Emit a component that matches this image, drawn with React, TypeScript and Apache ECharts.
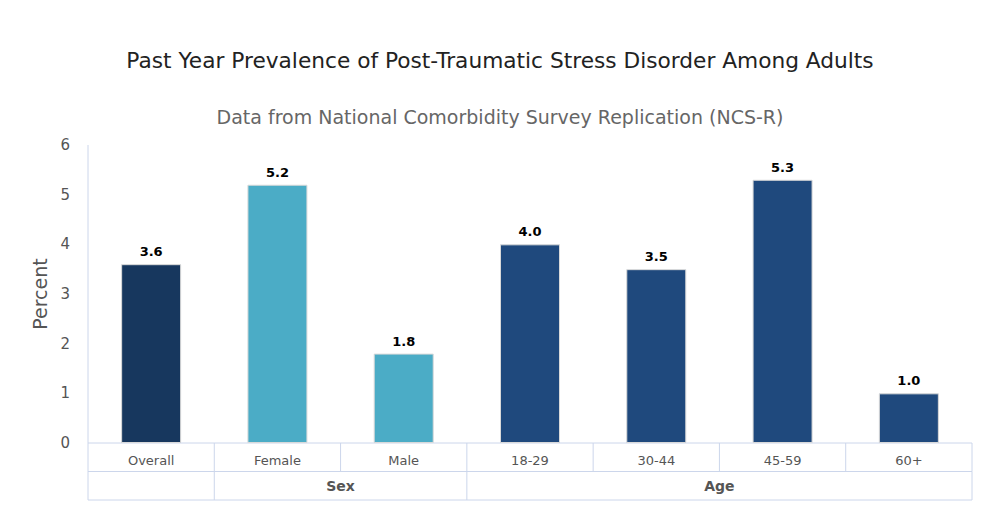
import React, { useEffect, useRef } from "react";
import * as echarts from "echarts";

const categories = ["Overall", "Female", "Male", "18-29", "30-44", "45-59", "60+"];
const values = [3.6, 5.2, 1.8, 4.0, 3.5, 5.3, 1.0];
const barColors = ["#17375e", "#4bacc6", "#4bacc6", "#1f497d", "#1f497d", "#1f497d", "#1f497d"];
const groupNames = ["", "Sex", "Age"];
const groupSpans = [1, 2, 4];
const yTicks = [0, 1, 2, 3, 4, 5, 6];

const FONT = "DejaVu Sans";
const LINE = "#ccd6eb";

export default function App() {
  const ref = useRef<HTMLDivElement>(null);
  useEffect(() => {
    if (!ref.current) return;
    const chart = echarts.init(ref.current, null, { renderer: "svg" });
    chart.setOption({
      animation: false,
      textStyle: { fontFamily: FONT },
      title: [
        {
          text: "Past Year Prevalence of Post-Traumatic Stress Disorder Among Adults",
          left: "center",
          top: 44,
          textStyle: { fontFamily: FONT, fontSize: 21.7, fontWeight: "normal", color: "#222" },
        },
        {
          text: "Data from National Comorbidity Survey Replication (NCS-R)",
          left: "center",
          top: 102,
          textStyle: { fontFamily: FONT, fontSize: 19, fontWeight: "normal", color: "#666" },
        },
      ],
      grid: { left: 88, right: 28, top: 145, bottom: 74 },
      xAxis: {
        type: "category",
        data: categories,
        axisLine: { show: false },
        axisTick: { show: false },
        axisLabel: { interval: 0, fontFamily: FONT, fontSize: 13, color: "#555", margin: 11 },
      },
      yAxis: {
        type: "value",
        min: yTicks[0],
        max: yTicks[yTicks.length - 1],
        interval: 1,
        name: "Percent",
        nameLocation: "middle",
        nameRotate: 90,
        nameGap: 35,
        nameTextStyle: { fontFamily: FONT, fontSize: 19, color: "#555" },
        axisLine: { show: false },
        axisTick: { show: false },
        splitLine: { show: false },
        axisLabel: { fontFamily: FONT, fontSize: 15, color: "#555", margin: 18 },
      },
      series: [
        {
          type: "bar",
          barWidth: 60,
          data: values.map((v, i) => ({
            value: v,
            itemStyle: { color: barColors[i], borderColor: "#d9d9d9", borderWidth: 1 },
          })),
          label: {
            show: true,
            position: "top",
            distance: 6,
            formatter: (p: any) => Number(p.value).toFixed(1),
            fontFamily: FONT,
            fontSize: 13,
            fontWeight: "bold",
            color: "#000",
          },
        },
      ],
    });

    const c0 = chart.convertToPixel({ xAxisIndex: 0 }, categories[0]) as number;
    const c1 = chart.convertToPixel({ xAxisIndex: 0 }, categories[1]) as number;
    const bw = c1 - c0;
    const bound = (i: number) => c0 - bw / 2 + i * bw;
    const yBase = chart.convertToPixel({ yAxisIndex: 0 }, yTicks[0]) as number;
    const yTop = chart.convertToPixel({ yAxisIndex: 0 }, yTicks[yTicks.length - 1]) as number;
    const rowH = 28.5;
    const left = bound(0);
    const right = bound(categories.length);
    const ln = (x1: number, y1: number, x2: number, y2: number) => ({
      type: "line",
      shape: { x1, y1, x2, y2 },
      style: { stroke: LINE, lineWidth: 1 },
      silent: true,
    });
    const elements: any[] = [];
    elements.push(ln(left, yTop, left, yBase + 2 * rowH));
    elements.push(ln(left, yBase, right, yBase));
    elements.push(ln(left, yBase + rowH, right, yBase + rowH));
    elements.push(ln(left, yBase + 2 * rowH, right, yBase + 2 * rowH));
    for (let i = 1; i <= categories.length; i++) {
      elements.push(ln(bound(i), yBase, bound(i), yBase + rowH));
    }
    let start = 0;
    groupSpans.forEach((span, gi) => {
      const end = start + span;
      elements.push(ln(bound(end), yBase + rowH, bound(end), yBase + 2 * rowH));
      if (groupNames[gi]) {
        elements.push({
          type: "text",
          x: (bound(start) + bound(end)) / 2,
          y: yBase + rowH * 1.5,
          style: {
            text: groupNames[gi],
            fontFamily: FONT,
            fontSize: 14,
            fontWeight: "bold",
            fill: "#555",
            align: "center",
            verticalAlign: "middle",
          },
          silent: true,
        });
      }
      start = end;
    });
    chart.setOption({ graphic: { elements } });

    return () => chart.dispose();
  }, []);
  return (
    <div
      ref={ref}
      style={{ position: "absolute", left: 0, top: 0, width: 1000, height: 517 }}
    />
  );
}
